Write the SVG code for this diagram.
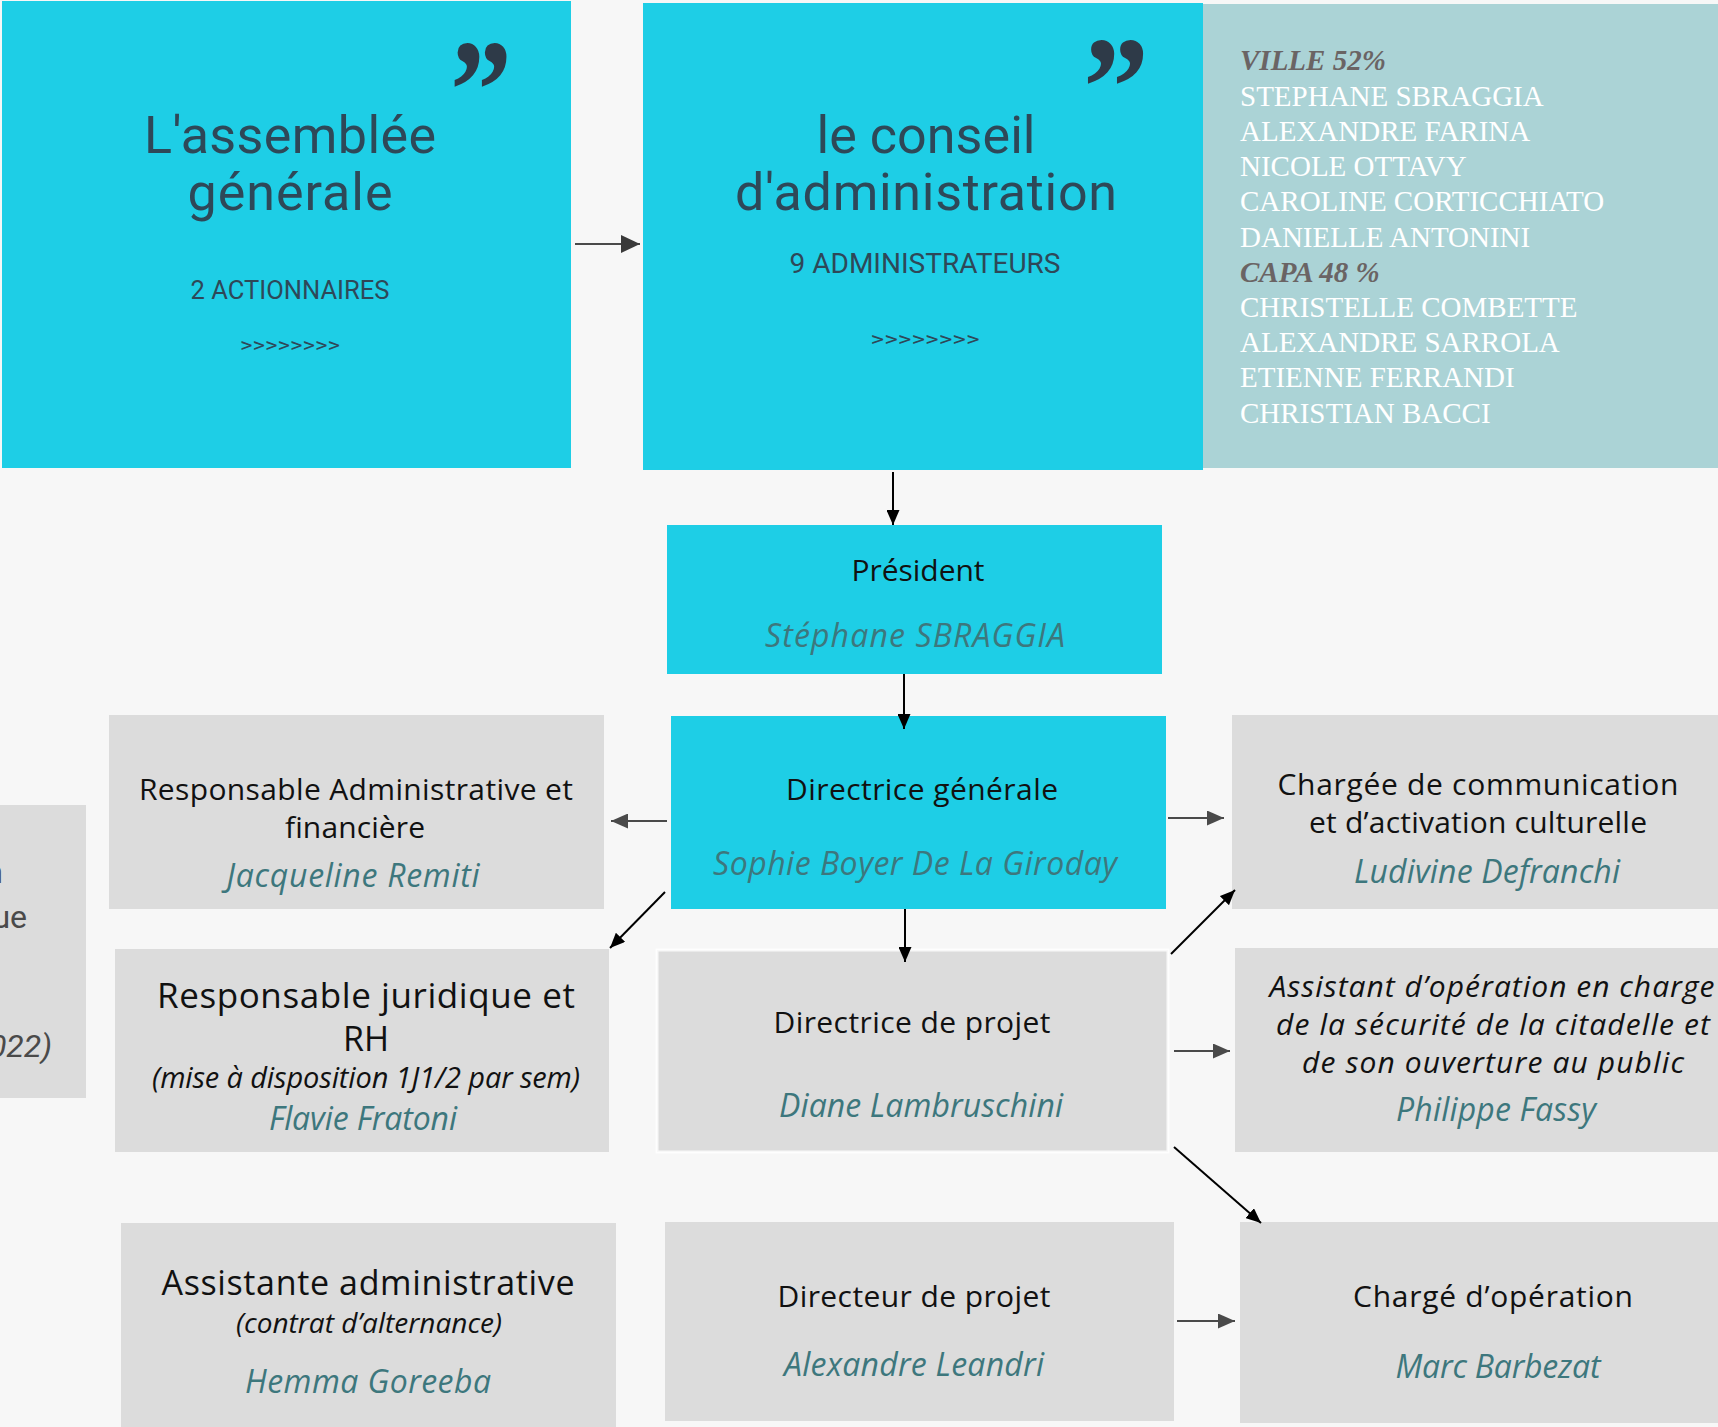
<svg xmlns="http://www.w3.org/2000/svg" width="1718" height="1427" viewBox="0 0 1718 1427">
<defs>
<style>
.cyan{fill:#1ecee6}
.gray{fill:#dcdcdc}
.panel{fill:#abd3d6}
.din{font-family:Roboto,"DejaVu Sans",sans-serif;fill:#2e4858;text-anchor:middle}
.quote{font-family:"Liberation Serif",serif;font-weight:bold;font-size:144px;fill:#2e3a48}
.av{font-family:"Open Sans","Noto Sans",sans-serif;fill:#111;text-anchor:middle;font-size:30px;font-variant-ligatures:none}
.name{font-style:italic;fill:#3d777d;font-size:32px}
.it{font-style:italic}
.tm{font-family:"Liberation Serif",serif;font-size:29px;fill:#ffffff}
.tmh{font-weight:bold;font-style:italic;fill:#6a6464}
.frag{font-family:Roboto,"Liberation Sans",sans-serif;font-size:32px;fill:#4a4a4a;text-anchor:end}
.lb{stroke:#000;stroke-width:2;fill:none}
.lg{stroke:#4a4a4a;stroke-width:2;fill:none}
</style>
<marker id="ab" viewBox="0 0 15 13" refX="15" refY="6.5" markerWidth="15" markerHeight="13" orient="auto" markerUnits="userSpaceOnUse"><path d="M0,0 L15,6.5 L0,13 z" fill="#000"/></marker>
<marker id="ag" viewBox="0 0 17 15" refX="17" refY="7.5" markerWidth="17" markerHeight="15" orient="auto" markerUnits="userSpaceOnUse"><path d="M0,0 L17,7.5 L0,15 z" fill="#4a4a4a"/></marker>
<marker id="agl" viewBox="0 0 19 18" refX="19" refY="9" markerWidth="19" markerHeight="18" orient="auto" markerUnits="userSpaceOnUse"><path d="M0,0 L19,9 L0,18 z" fill="#3a3a3a"/></marker>
</defs>
<rect x="0" y="0" width="1718" height="1427" fill="#f7f7f7"/>

<g id="assemblee">
<rect class="cyan" x="2" y="1" width="569" height="467"/>
<text class="quote" x="450" y="139" textLength="62" lengthAdjust="spacingAndGlyphs">”</text>
<text class="din" x="290" y="153" font-size="52" textLength="292">L'assemblée</text>
<text class="din" x="290" y="210" font-size="52" textLength="205">générale</text>
<text class="din" x="290" y="299" font-size="26" textLength="199" lengthAdjust="spacingAndGlyphs">2 ACTIONNAIRES</text>
<text class="din" x="290" y="352" font-size="20" textLength="100" lengthAdjust="spacingAndGlyphs">&gt;&gt;&gt;&gt;&gt;&gt;&gt;&gt;</text>
</g>

<g id="conseil">
<rect class="cyan" x="643" y="3" width="560" height="467"/>
<text class="quote" x="1083" y="136" textLength="66" lengthAdjust="spacingAndGlyphs">”</text>
<text class="din" x="926" y="153" font-size="52" textLength="219">le conseil</text>
<text class="din" x="926" y="210" font-size="52" textLength="382">d'administration</text>
<text class="din" x="925" y="273" font-size="27" textLength="271" lengthAdjust="spacingAndGlyphs">9 ADMINISTRATEURS</text>
<text class="din" x="925" y="346" font-size="20" textLength="109" lengthAdjust="spacingAndGlyphs">&gt;&gt;&gt;&gt;&gt;&gt;&gt;&gt;</text>
</g>

<g id="administrateurs">
<rect class="panel" x="1203" y="4" width="515" height="464"/>
<text class="tm tmh" x="1240" y="70">VILLE 52%</text>
<text class="tm" x="1240" y="106">STEPHANE SBRAGGIA</text>
<text class="tm" x="1240" y="141">ALEXANDRE FARINA</text>
<text class="tm" x="1240" y="176">NICOLE OTTAVY</text>
<text class="tm" x="1240" y="211">CAROLINE CORTICCHIATO</text>
<text class="tm" x="1240" y="247">DANIELLE ANTONINI</text>
<text class="tm tmh" x="1240" y="282">CAPA 48 %</text>
<text class="tm" x="1240" y="317">CHRISTELLE COMBETTE</text>
<text class="tm" x="1240" y="352">ALEXANDRE SARROLA</text>
<text class="tm" x="1240" y="387">ETIENNE FERRANDI</text>
<text class="tm" x="1240" y="423">CHRISTIAN BACCI</text>
</g>

<g id="president">
<rect class="cyan" x="667" y="525" width="495" height="149"/>
<text class="av" x="918" y="581" textLength="133">Président</text>
<text class="av name" x="915" y="647" textLength="300">Stéphane SBRAGGIA</text>
</g>

<g id="directrice-generale">
<rect class="cyan" x="671" y="716" width="495" height="193"/>
<text class="av" x="922" y="800" textLength="272">Directrice générale</text>
<text class="av name" x="915" y="875" textLength="404">Sophie Boyer De La Giroday</text>
</g>

<g id="partial-left">
<rect class="gray" x="0" y="805" width="86" height="293"/>
<text class="frag" x="3" y="883">n</text>
<text class="frag" x="27" y="928">ue</text>
<text class="frag it" x="52" y="1057">022)</text>
</g>

<g id="resp-admin">
<rect class="gray" x="109" y="715" width="495" height="194"/>
<text class="av" x="356" y="800" textLength="434">Responsable Administrative et</text>
<text class="av" x="355" y="838" textLength="140">financière</text>
<text class="av name" x="353" y="887" textLength="253">Jacqueline Remiti</text>
</g>

<g id="resp-juridique">
<rect class="gray" x="115" y="949" width="494" height="203"/>
<text class="av" x="366" y="1008" style="font-size:35px" textLength="418">Responsable juridique et</text>
<text class="av" x="366" y="1051" style="font-size:34px">RH</text>
<text class="av it" x="366" y="1088" style="font-size:29px" textLength="428">(mise à disposition 1J1/2 par sem)</text>
<text class="av name" x="363" y="1130" textLength="188">Flavie Fratoni</text>
</g>

<g id="communication">
<rect class="gray" x="1232" y="715" width="486" height="194"/>
<text class="av" x="1478" y="795" textLength="401">Chargée de communication</text>
<text class="av" x="1478" y="833" textLength="338">et d’activation culturelle</text>
<text class="av name" x="1487" y="883" textLength="266">Ludivine Defranchi</text>
</g>

<g id="assistant-operation">
<rect class="gray" x="1235" y="948" width="483" height="204"/>
<text class="av it" x="1492" y="997" textLength="445">Assistant d’opération en charge</text>
<text class="av it" x="1493" y="1035" textLength="434">de la sécurité de la citadelle et</text>
<text class="av it" x="1493" y="1073" textLength="382">de son ouverture au public</text>
<text class="av name" x="1496" y="1121" textLength="200">Philippe Fassy</text>
</g>

<g id="directrice-projet">
<rect class="gray" x="657" y="950" width="511" height="202" stroke="#ffffff" stroke-opacity="0.8" stroke-width="3"/>
<text class="av" x="912" y="1033" textLength="277">Directrice de projet</text>
<text class="av name" x="921" y="1117" textLength="284">Diane Lambruschini</text>
</g>

<g id="directeur-projet">
<rect class="gray" x="665" y="1222" width="509" height="199"/>
<text class="av" x="914" y="1307" textLength="273">Directeur de projet</text>
<text class="av name" x="914" y="1376" textLength="260">Alexandre Leandri</text>
</g>

<g id="charge-operation">
<rect class="gray" x="1240" y="1222" width="478" height="201"/>
<text class="av" x="1493" y="1307" textLength="280">Chargé d’opération</text>
<text class="av name" x="1498" y="1378" textLength="205">Marc Barbezat</text>
</g>

<g id="assistante-admin">
<rect class="gray" x="121" y="1223" width="495" height="204"/>
<text class="av" x="368" y="1295" style="font-size:34px" textLength="413">Assistante administrative</text>
<text class="av it" x="369" y="1333" style="font-size:28px" textLength="266">(contrat d’alternance)</text>
<text class="av name" x="368" y="1393" textLength="246">Hemma Goreeba</text>
</g>

<g id="connectors">
<line class="lg" x1="575" y1="244" x2="640" y2="244" marker-end="url(#agl)"/>
<line class="lb" x1="893" y1="472" x2="893" y2="525" marker-end="url(#ab)"/>
<line class="lb" x1="904" y1="674" x2="904" y2="729" marker-end="url(#ab)"/>
<line class="lg" x1="667" y1="821" x2="611" y2="821" marker-end="url(#ag)"/>
<line class="lb" x1="665" y1="892" x2="610" y2="948" marker-end="url(#ab)"/>
<line class="lg" x1="1168" y1="818" x2="1224" y2="818" marker-end="url(#ag)"/>
<line class="lb" x1="905" y1="909" x2="905" y2="962" marker-end="url(#ab)"/>
<line class="lb" x1="1171" y1="954" x2="1235" y2="890" marker-end="url(#ab)"/>
<line class="lg" x1="1174" y1="1051" x2="1230" y2="1051" marker-end="url(#ag)"/>
<line class="lb" x1="1174" y1="1147" x2="1261" y2="1223" marker-end="url(#ab)"/>
<line class="lg" x1="1177" y1="1321" x2="1235" y2="1321" marker-end="url(#ag)"/>
</g>
</svg>
